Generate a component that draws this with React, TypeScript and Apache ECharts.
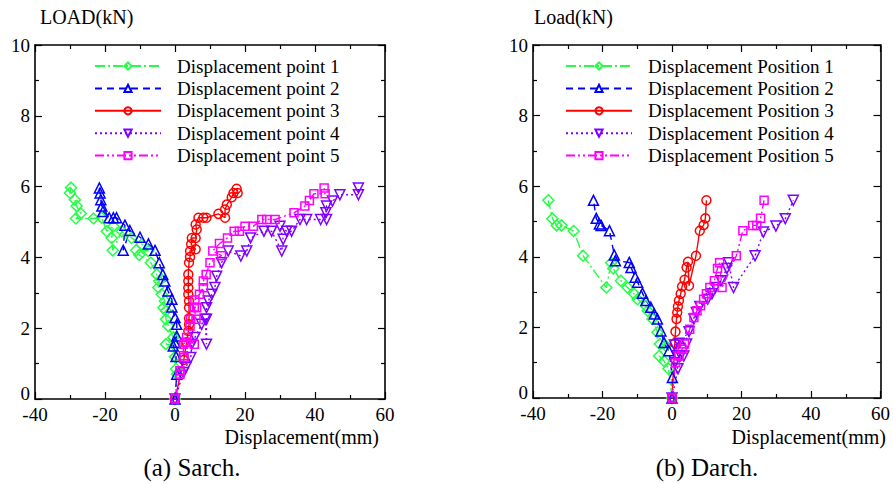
import React, { useEffect, useRef } from "react";
import * as echarts from "echarts";

// (a) Sarch. — [displacement(mm), load(kN)]
const sarchP1 = [[0,0],[0.6,0.7],[0.3,0.85],[0,1.19],[0,1.5],[-2.6,1.55],[-0.5,1.74],[-1.9,2.06],[-2.6,2.25],[-2.6,2.49],[-3.3,2.58],[-2.9,2.77],[-3.8,2.96],[-4.8,3.15],[-4.5,3.33],[-5.2,3.52],[-6.9,3.85],[-10.2,4.07],[-11.1,4.2],[-7.6,4.18],[-9.5,4.37],[-12.4,4.55],[-15.2,4.74],[-17.8,4.2],[-18.1,4.55],[-17.6,4.88],[-19.5,4.74],[-20.9,5.12],[-23.3,5.1],[-28.3,5.1],[-26.9,5.24],[-28.1,5.45],[-28.6,5.63],[-30,5.82],[-29.7,5.97]];
const sarchP2 = [[0,0],[0.5,0.7],[0.3,1.2],[-0.5,1.5],[0,1.6],[0.5,1.78],[0.5,2.11],[0,2.3],[-0.9,2.6],[-0.9,2.82],[-2,3.05],[-2.9,3.33],[-3.5,3.52],[-4.5,3.85],[-5.7,4.2],[-7.6,4.38],[-10,4.57],[-12.9,4.76],[-14.8,4.2],[-14.3,4.91],[-16.7,5.12],[-17.6,5.12],[-18.8,5.12],[-20.6,5.3],[-20.9,5.45],[-21.2,5.63],[-21.4,5.82],[-21.6,5.96]];
const sarchP3 = [[0,0],[2.5,1.1],[3.3,1.6],[3.8,1.92],[4,2.11],[4,2.28],[4,2.58],[4,2.77],[3.8,2.96],[3.8,3.14],[3.8,3.33],[3.8,3.52],[4,3.85],[4.3,4.01],[4.3,4.18],[5.9,4.23],[4.6,4.37],[4.8,4.55],[5.9,4.55],[6.2,4.79],[5.9,4.93],[6.7,5.12],[8.1,5.12],[9,5.12],[12.4,5.23],[14.3,5.12],[14.3,5.35],[14.8,5.49],[16.2,5.7],[16.7,5.82],[17.9,5.82],[17.6,5.94]];
const sarchP4 = [[0,0],[2.4,0.75],[3.1,0.89],[4.5,1.17],[4.8,1.55],[5.7,1.74],[7.6,2.11],[8.6,2.25],[9,1.55],[9,2.25],[9,2.58],[9.5,2.77],[10.5,2.96],[11.4,3.15],[11.9,3.47],[13.3,3.85],[15.2,4.18],[18.8,4.04],[20.5,4.18],[21.6,4.55],[25.4,4.74],[27.6,4.74],[30.5,4.18],[30.9,4.51],[30,4.88],[31.9,4.74],[33.3,4.74],[35.7,5.07],[37.6,5.07],[41.6,5.07],[43.3,5.07],[43.1,5.26],[43.3,5.45],[45,5.59],[47.1,5.77],[52.4,5.77],[52.4,5.96]];
const sarchP5 = [[0,0],[1.4,0.7],[1.4,0.8],[2.6,1.17],[2.4,1.22],[2.4,1.55],[2.9,1.6],[3.3,1.74],[5.5,1.55],[4.3,2.06],[4.5,2.25],[6,2.25],[5.5,2.6],[6.2,2.58],[5.7,2.8],[7,2.96],[8.1,3.14],[8.1,3.33],[8.9,3.52],[10,3.85],[13.3,4.05],[10.8,4.18],[12.7,4.39],[15,4.55],[16.9,4.74],[18.4,4.74],[20,4.88],[22.4,4.88],[24.8,5.07],[26.2,5.07],[28.6,5.07],[34,5.26],[37.1,5.45],[38.4,5.61],[39.7,5.8],[42.9,5.8],[42.6,5.96]];

// (b) Darch.
const darchP1 = [[0,0],[-1,0.83],[-2.3,1.05],[-3.7,1.19],[-1.8,1.48],[-3.5,1.53],[-4.2,1.86],[-5.6,2.24],[-7,2.47],[-7.5,2.61],[-9.9,2.8],[-10.9,2.95],[-12.8,3.13],[-14.7,3.32],[-16.9,3.67],[-17.5,3.83],[-18.9,3.13],[-25.6,4.03],[-28.3,4.73],[-31.8,4.89],[-33.2,4.89],[-34.4,5.08],[-35.6,5.6]];
const darchP2 = [[0,0],[0.1,0.58],[-0.9,1.34],[-2.3,1.57],[-3.2,1.9],[-4.2,2.24],[-5.1,2.38],[-6.1,2.57],[-7.5,2.76],[-8.5,2.97],[-9.9,3.28],[-10.6,3.42],[-11.8,3.7],[-12.3,3.84],[-16.3,3.89],[-16.6,4.05],[-18,4.74],[-20.4,4.89],[-20.9,4.93],[-21.8,5.09],[-22.6,5.6]];
const darchP3 = [[0,0],[0.8,1.55],[1,1.88],[1.3,2.24],[1.5,2.42],[1.7,2.59],[2,2.76],[2.5,2.95],[2.9,3.16],[3.6,3.35],[4.2,3.7],[4.6,3.86],[4.9,3.18],[6.9,4.03],[8,4.74],[9.1,4.9],[9.6,5.09],[9.9,5.6]];
const darchP4 = [[0,0],[1.7,0.83],[0.8,1.0],[3.4,1.19],[1.5,1.2],[2.5,1.2],[0.7,1.5],[4.2,1.53],[2,1.55],[4.9,1.88],[6.3,2.24],[7,2.42],[8,2.59],[10.3,2.8],[11.5,2.95],[12.5,3.13],[14.1,3.32],[15.8,3.67],[16.3,3.83],[17.7,3.13],[23.9,4.03],[26.3,4.7],[29.9,4.87],[32.6,5.08],[34.9,5.6]];
const darchP5 = [[0,0],[1,1.0],[2,1.19],[2.9,1.38],[3.6,1.53],[5.1,1.95],[6.3,2.28],[7.2,2.47],[8.2,2.61],[9.1,2.8],[9.9,2.95],[10.9,3.13],[12.2,3.32],[13.1,3.67],[13.7,3.83],[14.4,3.13],[18.5,4.03],[20.4,4.74],[23.2,4.89],[24.4,4.89],[25.5,5.09],[26.5,5.6]];

const sarchNames = ["Displacement point 1","Displacement point 2","Displacement point 3","Displacement point 4","Displacement point 5"];
const darchNames = ["Displacement Position 1","Displacement Position 2","Displacement Position 3","Displacement Position 4","Displacement Position 5"];
const yAxisNames = ["LOAD(kN)", "Load(kN)"];
const xAxisName = "Displacement(mm)";
const captions = ["(a) Sarch.", "(b) Darch."];

const FONT = "'Liberation Serif', 'DejaVu Serif', 'Times New Roman', serif";
const COLORS = ["#22ff44", "#0000ff", "#ff0000", "#8000ff", "#ff00ff"];
const SYMBOLS = ["diamond", "triangle", "circle", "triangle", "rect"];
const ROTATE = [0, 0, 0, 180, 0];
const DASH: any[] = [[10, 3, 2, 3], [7, 5], "solid", [2, 3], [9, 3, 2, 3, 2, 3]];
const SIZES = [11, 10, 9, 10, 8];

function mkSeries(name: string, data: number[][], i: number, gi: number) {
  return {
    type: "line",
    name,
    data,
    xAxisIndex: gi,
    yAxisIndex: gi,
    symbol: SYMBOLS[i],
    symbolSize: SIZES[i],
    symbolRotate: ROTATE[i],
    showAllSymbol: true,
    lineStyle: { color: COLORS[i], width: 1.4, type: DASH[i] },
    itemStyle: { color: "rgba(255,255,255,0)", borderColor: COLORS[i], borderWidth: 1.5 },
    emphasis: { disabled: true },
  };
}

function xAx(gi: number, pos: string, show: boolean) {
  return {
    type: "value", gridIndex: gi, position: pos, min: -40, max: 60, interval: 20,
    axisLine: { show: true, onZero: false, lineStyle: { color: "#000", width: 1.6 } },
    axisTick: { show: true, inside: true, length: 7, lineStyle: { color: "#000", width: 1.2 } },
    minorTick: { show: true, splitNumber: 2, length: 4, lineStyle: { color: "#000", width: 1.2 } },
    splitLine: { show: false },
    axisLabel: { show, color: "#000", fontFamily: FONT, fontSize: 19, margin: 6 },
  };
}
function yAx(gi: number, pos: string, show: boolean) {
  return {
    type: "value", gridIndex: gi, position: pos, min: 0, max: 10, interval: 2,
    axisLine: { show: true, onZero: false, lineStyle: { color: "#000", width: 1.6 } },
    axisTick: { show: true, inside: true, length: 7, lineStyle: { color: "#000", width: 1.2 } },
    minorTick: { show: true, splitNumber: 2, length: 4, lineStyle: { color: "#000", width: 1.2 } },
    splitLine: { show: false },
    axisLabel: {
      show, color: "#000", fontFamily: FONT, fontSize: 19, margin: 5,
      formatter: (v: number) => (v === 0 ? "{z|0}" : String(v)),
      rich: { z: { fontFamily: FONT, fontSize: 19, color: "#000", padding: [0, 0, 12, 0] } },
    },
  };
}
function legendOf(names: string[], left: number) {
  return {
    data: names, orient: "vertical", left, top: 51,
    itemWidth: 66, itemHeight: 9, itemGap: 2.4,
    textStyle: { color: "#000", fontFamily: FONT, fontSize: 19, lineHeight: 20, padding: [0, 0, 0, 11] },
    selectedMode: false,
  };
}

export default function App() {
  const ref = useRef<HTMLDivElement>(null);
  useEffect(() => {
    if (!ref.current) return;
    const chart = echarts.init(ref.current, undefined, { renderer: "svg" });
    const sarch = [sarchP1, sarchP2, sarchP3, sarchP4, sarchP5];
    const darch = [darchP1, darchP2, darchP3, darchP4, darchP5];
    const txt = (text: string, x: number, y: number, align: string, size: number) => ({
      type: "text", x, y,
      style: { text, fill: "#000", fontFamily: FONT, fontSize: size, align, verticalAlign: "middle" },
    });
    chart.setOption({
      animation: false,
      backgroundColor: "#fff",
      grid: [
        { left: 35, top: 45, width: 350, height: 354 },
        { left: 533, top: 45, width: 350, height: 353 },
      ],
      xAxis: [xAx(0, "bottom", true), xAx(1, "bottom", true), xAx(0, "top", false), xAx(1, "top", false)],
      yAxis: [yAx(0, "left", true), yAx(1, "left", true), yAx(0, "right", false), yAx(1, "right", false)],
      legend: [legendOf(sarchNames, 89), legendOf(darchNames, 560)],
      series: [
        ...sarch.map((d, i) => mkSeries(sarchNames[i], d, i, 0)),
        ...darch.map((d, i) => mkSeries(darchNames[i], d, i, 1)),
      ],
      graphic: [
        txt(yAxisNames[0], 40, 17, "left", 20),
        txt(yAxisNames[1], 534, 17, "left", 20),
        txt(xAxisName, 379, 437, "right", 20),
        txt(xAxisName, 886, 437, "right", 20),
        txt(captions[0], 192, 467, "center", 25),
        txt(captions[1], 707, 467, "center", 25),
      ],
    });
    return () => chart.dispose();
  }, []);
  return <div ref={ref} style={{ position: "fixed", left: 0, top: 0, width: 893, height: 484 }} />;
}
